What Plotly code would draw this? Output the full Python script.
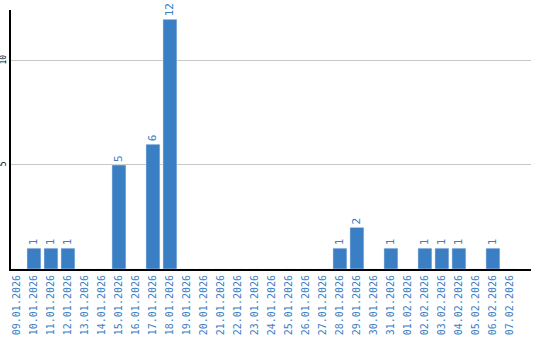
import plotly.graph_objects as go

dates = ["09.01.2026","10.01.2026","11.01.2026","12.01.2026","13.01.2026","14.01.2026",
         "15.01.2026","16.01.2026","17.01.2026","18.01.2026","19.01.2026","20.01.2026",
         "21.01.2026","22.01.2026","23.01.2026","24.01.2026","25.01.2026","26.01.2026",
         "27.01.2026","28.01.2026","29.01.2026","30.01.2026","31.01.2026","01.02.2026",
         "02.02.2026","03.02.2026","04.02.2026","05.02.2026","06.02.2026","07.02.2026"]
values = [0,1,1,1,0,0,5,0,6,12,0,0,0,0,0,0,0,0,0,1,2,0,1,0,1,1,1,0,1,0]
labels = [str(v) if v else "" for v in values]

blue = "#3a7ec3"
fig = go.Figure(go.Bar(
    x=list(range(len(dates))), y=values, text=labels, textposition="outside",
    textangle=-90, textfont=dict(color=blue, size=11, family="DejaVu Sans Mono"),
    marker=dict(color=blue), cliponaxis=False,
))
fig.update_layout(
    width=540, height=340, margin=dict(l=11, r=9, t=10, b=71),
    plot_bgcolor="white", paper_bgcolor="white", showlegend=False, bargap=0.18,
)
fig.update_xaxes(
    range=[-0.35, 30.24], tickmode="array", tickvals=list(range(len(dates))), ticktext=dates,
    tickangle=-90, tickfont=dict(color=blue, size=10, family="DejaVu Sans Mono"),
    showline=True, linecolor="black", linewidth=2, showgrid=False, ticks="",
    automargin=False,
)
fig.update_yaxes(
    range=[0, 12.45], tickvals=[5, 10], tickangle=-90,
    tickfont=dict(color="black", size=8, family="DejaVu Sans Mono"),
    showline=True, linecolor="black", linewidth=2, gridcolor="#c8c8c8", gridwidth=1,
    zeroline=False, ticks="", automargin=False, ticklabelstandoff=0,
)
fig.write_html("out.html")
